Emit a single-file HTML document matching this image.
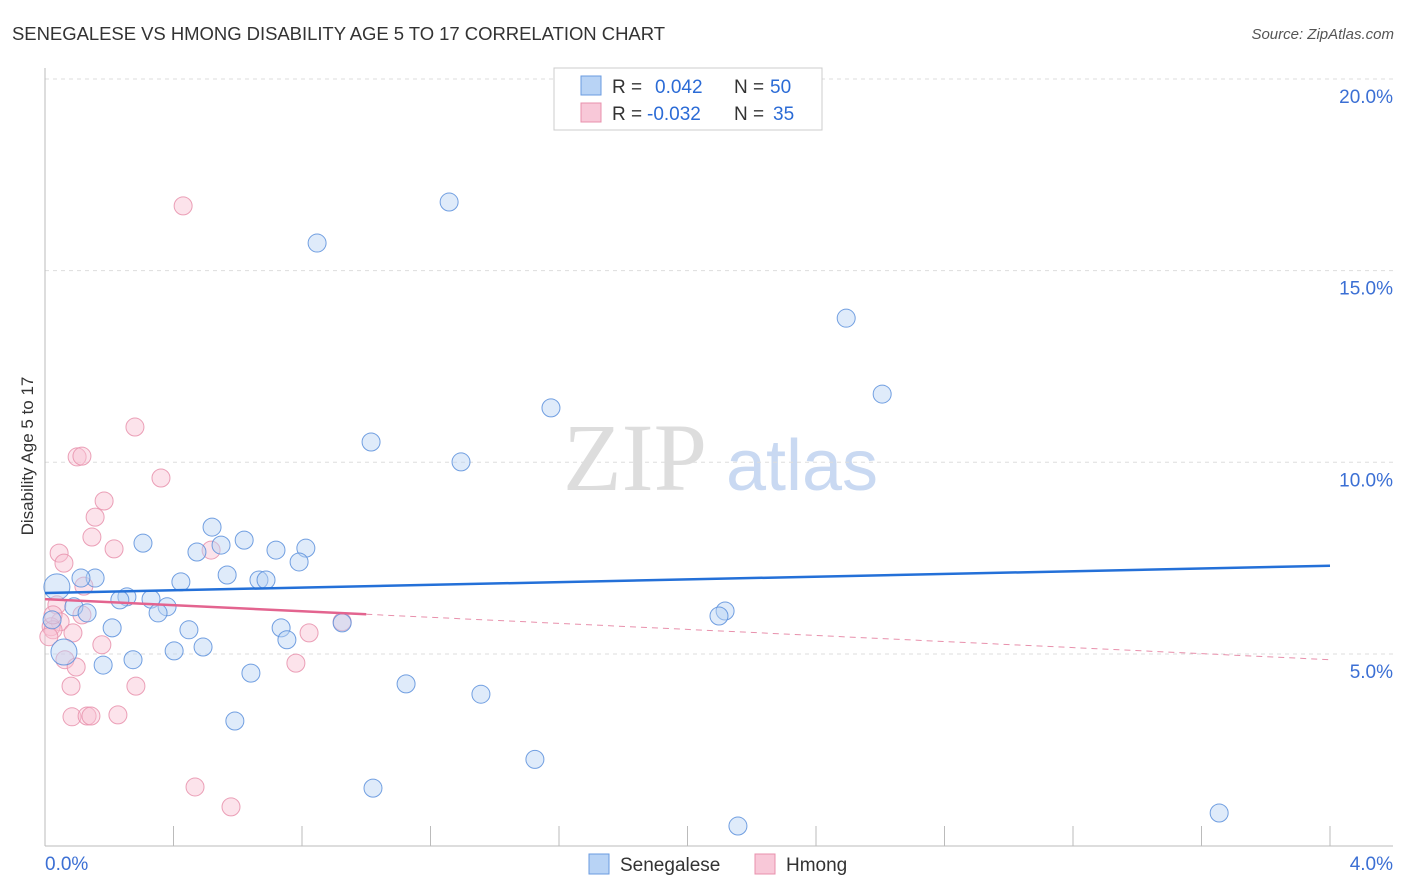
<!DOCTYPE html>
<html><head><meta charset="utf-8"><style>
body{margin:0;background:#fff;font-family:"Liberation Sans",sans-serif}
svg{display:block}
</style></head><body>
<svg id="chart" width="1406" height="892">
<text x="12" y="40" font-size="18.5" fill="#333" textLength="653">SENEGALESE VS HMONG DISABILITY AGE 5 TO 17 CORRELATION CHART</text>
<text x="1394" y="39" font-size="15" fill="#555" text-anchor="end" font-style="italic">Source: ZipAtlas.com</text>
<text transform="translate(33,456) rotate(-90)" font-size="17" fill="#333" text-anchor="middle">Disability Age 5 to 17</text>
<g><text x="635" y="490" font-size="96" fill="#ddd" font-family="Liberation Serif,serif" text-anchor="middle">ZIP</text><text x="802" y="490" font-size="72" fill="#c9d9f2" text-anchor="middle">atlas</text></g>
<g id="grid"></g><g id="axes"></g><g id="marks"></g>
<g>
<rect x="554" y="68" width="268" height="62" fill="#fff" stroke="#ccc"/>
<rect x="581" y="76" width="20" height="19" fill="#b8d3f5" stroke="#6a9be0"/>
<rect x="581" y="103" width="20" height="19" fill="#f8c8d8" stroke="#e890ac"/>
<text y="93" font-size="19" fill="#333"><tspan x="612">R =</tspan><tspan x="655" fill="#2b6bd6">0.042</tspan><tspan x="734">N =</tspan><tspan x="770" fill="#2b6bd6">50</tspan></text>
<text y="120" font-size="19" fill="#333"><tspan x="612">R =</tspan><tspan x="647" fill="#2b6bd6">-0.032</tspan><tspan x="734">N =</tspan><tspan x="773" fill="#2b6bd6">35</tspan></text>
</g>
<g>
<rect x="589" y="854" width="20" height="20" fill="#b8d3f5" stroke="#6a9be0"/>
<text x="620" y="871" font-size="19" fill="#333">Senegalese</text>
<rect x="755" y="854" width="20" height="20" fill="#f8c8d8" stroke="#e890ac"/>
<text x="786" y="871" font-size="19" fill="#333">Hmong</text>
</g>
</svg>
<script>
const blueX=[1.258,0.847,2.494,2.606,1.575,1.015,1.295,0.520,0.305,0.620,0.548,0.473,0.719,0.812,0.791,0.567,0.423,0.666,0.688,0.156,0.112,0.037,0.255,0.233,0.330,0.380,0.352,0.090,0.131,0.022,0.209,0.448,0.735,0.753,0.925,2.117,2.098,0.402,0.492,0.059,0.274,0.181,0.641,1.124,1.357,0.591,1.525,1.021,2.157,3.655];
const blueY=[16.79,15.72,13.76,11.78,11.42,10.53,10.01,8.31,7.89,7.97,7.84,7.66,7.71,7.76,7.40,7.06,6.88,6.93,6.93,6.98,6.98,6.75,6.49,6.41,6.43,6.23,6.07,6.23,6.07,5.89,5.68,5.63,5.68,5.37,5.81,6.12,5.99,5.08,5.18,5.05,4.85,4.71,4.50,4.22,3.95,3.25,2.25,1.50,0.51,0.85];
const pinkX=[0.430,0.280,0.100,0.115,0.361,0.184,0.156,0.146,0.215,0.517,0.044,0.059,0.121,0.037,0.115,0.047,0.019,0.025,0.087,0.012,0.177,0.925,0.822,0.062,0.097,0.781,0.081,0.283,0.084,0.131,0.143,0.227,0.467,0.579,0.025];
const pinkY=[16.69,10.92,10.14,10.16,9.59,8.99,8.57,8.05,7.74,7.71,7.63,7.37,6.77,6.28,6.02,5.84,5.71,5.63,5.55,5.45,5.24,5.84,5.55,4.85,4.66,4.76,4.16,4.16,3.36,3.38,3.38,3.41,1.53,1.01,6.02];
const blueTrend=[6.59,7.30];
const pinkTrend=[6.43,4.85];
const yTicks=[5,10,15,20];
const xTickLabels=["0.0%","4.0%"];
const NS="http://www.w3.org/2000/svg";
const X=v=>45+v/4*1285, Y=v=>845.6-v*38.33;
function mk(p,t,a){const e=document.createElementNS(NS,t);for(const k in a)e.setAttribute(k,a[k]);document.getElementById(p).appendChild(e);return e;}
yTicks.forEach(t=>{
 const g=mk('grid','line',{x1:45,x2:1393,y1:Y(t),y2:Y(t),stroke:'#ddd','stroke-dasharray':'4,4'});
 
 
 const l=mk('axes','text',{x:1393,y:Y(t)+24,'font-size':19,fill:'#3b6fd4','text-anchor':'end'});l.textContent=t.toFixed(1)+'%';
 
 
});
const ax=mk('axes','line',{x1:45,x2:45,y1:68,y2:846,stroke:'#bbb'});


const bx=mk('axes','line',{x1:45,x2:1393,y1:846,y2:846,stroke:'#bbb'});


for(let i=1;i<=10;i++){const t=mk('axes','line',{x1:X(i*0.4),x2:X(i*0.4),y1:826,y2:846,stroke:'#bbb'});
 
 }
[[0,xTickLabels[0],'start',45],[4,xTickLabels[1],'end',1393]].forEach(d=>{const l=mk('axes','text',{x:d[3],y:870,'font-size':19,fill:'#3b6fd4','text-anchor':d[2]});l.textContent=d[1];
 
 });
function pts(xs,ys,fill,stroke,name){xs.forEach((x,i)=>{const big=(x<0.07&&(name=='senegalese-point'));
 const c=mk('marks','circle',{cx:X(x),cy:Y(ys[i]),r:big&&i!=29?13:9,fill:fill,'fill-opacity':0.45,stroke:stroke,'stroke-width':1,'stroke-opacity':0.85});
 
 });}
pts(pinkX,pinkY,'#f8c0d2','#e890ac','hmong-point');
pts(blueX,blueY,'#b8d3f5','#5a8fdc','senegalese-point');
const bl=mk('marks','line',{x1:X(0),x2:X(4),y1:Y(blueTrend[0]),y2:Y(blueTrend[1]),stroke:'#2470d8','stroke-width':2.5});


const pm=pinkTrend[0]+(pinkTrend[1]-pinkTrend[0])*1.0/4;
const pl=mk('marks','line',{x1:X(0),x2:X(1.0),y1:Y(pinkTrend[0]),y2:Y(pm),stroke:'#e3648f','stroke-width':2.5});


const pd=mk('marks','line',{x1:X(1.0),x2:X(4),y1:Y(pm),y2:Y(pinkTrend[1]),stroke:'#e890ac','stroke-width':1,'stroke-dasharray':'6,5'});


</script>
</body></html>
